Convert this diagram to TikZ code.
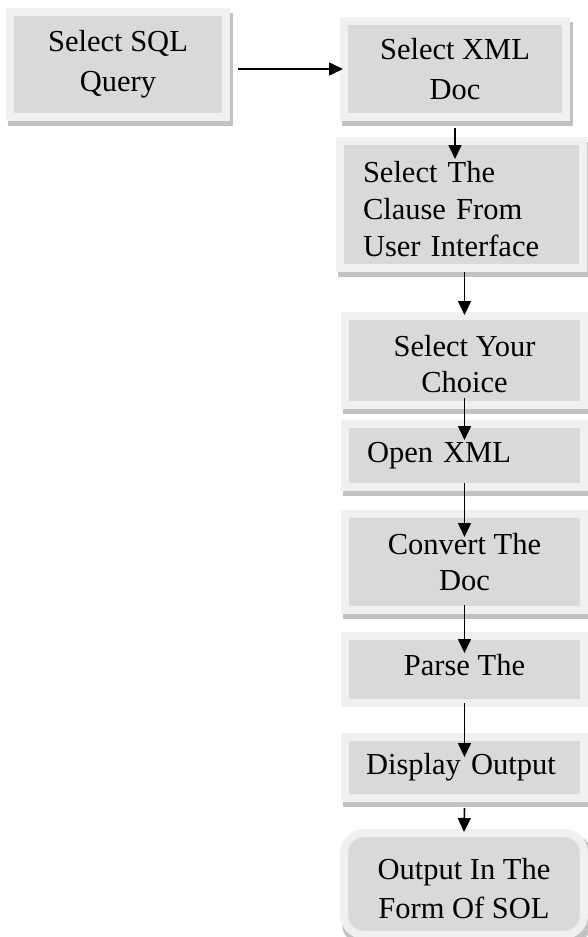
\documentclass[tikz,border=0pt]{standalone}
\usepackage{fontspec}
\setmainfont{Liberation Serif}
\usetikzlibrary{arrows.meta,positioning,backgrounds}
\definecolor{cframe}{rgb}{0.941,0.941,0.941}
\definecolor{cfill}{rgb}{0.851,0.851,0.851}
\definecolor{cshadow}{rgb}{0.760,0.760,0.760}
\tikzset{
  procbox/.style={draw=cframe,fill=cfill,line width=8pt,outer sep=0pt,inner sep=0pt,
    align=center,font=\fontsize{30.5pt}{37pt}\selectfont},
  leftbox/.style={procbox,align=left},
  flow/.style={-{Triangle[length=14pt,width=13pt]},line width=1.6pt,black},
}
\begin{document}
\begin{tikzpicture}[x=1pt,y=1pt]
%
\useasboundingbox (0,0) rectangle (588,-937);
%
\node[procbox,minimum width=216pt,minimum height=105pt,font=\fontsize{30.5pt}{40pt}\selectfont] (sql) at (118,-64.5) {Select SQL\\Query};
\node[procbox,minimum width=222pt,minimum height=96pt,font=\fontsize{30.5pt}{40pt}\selectfont] (xmldoc) at (455,-69) {Select XML\\Doc};
\node[leftbox,minimum width=243pt,minimum height=127pt,inner xsep=23pt,text width=197pt,text height=31pt] (clause) at (461.5,-204.5) {Select The\\Clause From\\User Interface};
\node[procbox,minimum width=239pt,minimum height=89pt,text height=65pt,font=\fontsize{30.5pt}{36pt}\selectfont] (choice) at (464.5,-360.5) {Select Your\\Choice};
\node[leftbox,minimum width=239pt,minimum height=63pt,inner xsep=22pt,text width=195pt] (openxml) at (464.5,-455.5) {Open XML};
\node[procbox,minimum width=239pt,minimum height=96pt,font=\fontsize{30.5pt}{36pt}\selectfont] (convert) at (464.5,-562) {Convert The\\Doc};
\node[procbox,minimum width=239pt,minimum height=67pt,text depth=10pt] (parse) at (464.5,-669.5) {Parse The};
\node[leftbox,minimum width=239pt,minimum height=61pt,inner xsep=21pt,text width=197pt] (display) at (464.5,-767.5) {Display Output};
\node[procbox,rounded corners=20pt,minimum width=240pt,minimum height=102pt,text height=70pt,font=\fontsize{30.5pt}{39pt}\selectfont] (sqlout) at (464,-884) {Output In The\\Form Of SOL};
%
\begin{scope}[on background layer]
\foreach \n in {sql,xmldoc,clause,choice,openxml,convert,display}
  \fill[cshadow] ([xshift=-2pt,yshift=-9pt]\n.south west) rectangle ([xshift=7pt,yshift=-1pt]\n.north east);
\fill[cshadow,rounded corners=20pt] ([xshift=-2pt,yshift=-9pt]sqlout.south west) rectangle ([xshift=7pt,yshift=-1pt]sqlout.north east);
\end{scope}
%
\draw[flow] ([xshift=12pt]sql.east |- xmldoc.west) -- ([xshift=-1pt]xmldoc.west);
\draw[flow] ([yshift=-11pt]xmldoc.south) -- ([yshift=-18pt]xmldoc.south |- clause.north);
\draw[flow] ([yshift=-4pt]clause.south -| choice.north) -- ([yshift=1pt]choice.north);
\draw[flow] ([yshift=7pt]choice.south) -- ([yshift=-16pt]openxml.north);
\draw[flow] ([yshift=4pt]openxml.south) -- ([yshift=-23pt]convert.north);
\draw[flow] ([yshift=5pt]convert.south) -- ([yshift=-17pt]parse.north);
\draw[flow] (parse.south) -- ([yshift=-20pt]display.north);
\draw[flow] ([yshift=-10pt]display.south) -- ([yshift=1pt]sqlout.north);
%
\end{tikzpicture}
\end{document}
